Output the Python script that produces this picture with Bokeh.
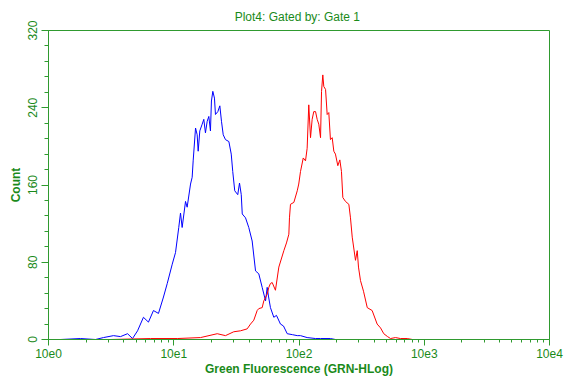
from bokeh.plotting import figure
from bokeh.models import FixedTicker, SingleIntervalTicker, Range1d
from bokeh.embed import file_html
from bokeh.resources import INLINE

# ---- data (log10 of green fluorescence, counts) ----
blue_log = [0.096, 0.255, 0.375, 0.439, 0.519, 0.575, 0.631, 0.671, 0.711, 0.758,
            0.798, 0.838, 0.878, 0.918, 0.948, 0.988, 1.014, 1.040, 1.054, 1.067,
            1.094, 1.107, 1.134, 1.147, 1.155, 1.174, 1.187, 1.195, 1.208, 1.227,
            1.240, 1.253, 1.267, 1.280, 1.293, 1.301, 1.312, 1.325, 1.333, 1.352,
            1.368, 1.381, 1.395, 1.413, 1.440, 1.459, 1.471, 1.487, 1.511, 1.525,
            1.539, 1.547, 1.573, 1.599, 1.626, 1.653, 1.679, 1.706, 1.733, 1.746,
            1.756, 1.772, 1.799, 1.820, 1.852, 1.876, 1.906, 1.948, 1.986, 2.012,
            2.065, 2.132, 2.172, 2.251, 2.291]
blue_count = [0, 1, 0, 2, 4, 3, 6, 1, 9, 23,
              18, 30, 27, 44, 58, 78, 90, 116, 131, 116,
              143, 137, 161, 168, 185, 219, 212, 195, 216, 223,
              228, 214, 226, 231, 216, 247, 257, 250, 233, 236,
              242, 226, 212, 207, 205, 192, 174, 154, 150, 162,
              150, 130, 126, 116, 102, 71, 68, 54, 40, 54,
              45, 33, 23, 25, 16, 14, 6, 5, 4, 4,
              2, 1, 1, 1, 0]

red_log = [0.232, 0.495, 0.814, 1.028, 1.214, 1.347, 1.413, 1.479, 1.533, 1.586,
           1.613, 1.639, 1.666, 1.679, 1.706, 1.719, 1.746, 1.759, 1.772, 1.786,
           1.812, 1.839, 1.879, 1.900, 1.919, 1.924, 1.932, 1.959, 1.986, 1.998,
           2.012, 2.034, 2.052, 2.065, 2.078, 2.092, 2.105, 2.118, 2.132, 2.145,
           2.158, 2.172, 2.180, 2.190, 2.198, 2.212, 2.225, 2.238, 2.251, 2.265,
           2.278, 2.291, 2.310, 2.326, 2.339, 2.350, 2.371, 2.398, 2.411, 2.425,
           2.451, 2.465, 2.475, 2.491, 2.515, 2.545, 2.584, 2.624, 2.651, 2.677,
           2.707, 2.731, 2.770, 2.810, 2.864, 2.906]
red_count = [0, 0, 1, 1, 2, 6, 4, 8, 9, 11,
             16, 20, 30, 32, 33, 40, 47, 54, 58, 59,
             51, 75, 92, 100, 109, 126, 140, 142, 154, 161,
             174, 188, 185, 198, 243, 209, 228, 236, 236, 228,
             223, 209, 257, 274, 262, 259, 233, 235, 207, 209,
             195, 192, 180, 186, 174, 147, 143, 140, 126, 106,
             82, 92, 75, 61, 50, 33, 30, 16, 12, 6,
             3, 1, 2, 1, 1, 0]

x_decades = [1, 10, 100, 1000, 10000]
x_tick_labels = ["10e0", "10e1", "10e2", "10e3", "10e4"]
y_ticks = [0, 80, 160, 240, 320]

TXT = "#1a8a1a"
LINE = "#2f9a2f"

p = figure(width=566, height=384, output_backend="svg", toolbar_location=None,
           x_axis_type="log", x_range=Range1d(1, 10000), y_range=Range1d(0, 320),
           title="Plot4:  Gated by: Gate 1",
           min_border_left=48, min_border_right=17, min_border_top=29, min_border_bottom=45)

p.line([10 ** v for v in blue_log], blue_count, line_color="#0000ff", line_width=1)
p.line([10 ** v for v in red_log], red_count, line_color="#ff0000", line_width=1)

p.title.align = "center"
p.title.vertical_align = "bottom"
p.title.text_color = TXT
p.title.text_font = "Liberation Sans"
p.title.text_font_size = "12px"
p.title.text_font_style = "normal"
p.title.standoff = 14

p.grid.visible = False
p.outline_line_color = LINE
p.outline_line_alpha = 1
p.outline_line_width = 1
p.background_fill_color = "white"
p.border_fill_color = "white"

minor = [d * k for d in x_decades[:-1] for k in range(2, 10)]
p.xaxis.ticker = FixedTicker(ticks=x_decades, minor_ticks=minor)
p.xaxis.major_label_overrides = {d: lab for d, lab in zip(x_decades, x_tick_labels)}
p.yaxis.ticker = SingleIntervalTicker(interval=80, num_minor_ticks=5)
p.yaxis.major_label_overrides = {v: str(v) for v in y_ticks}
p.yaxis.major_label_orientation = "vertical"

for ax in (p.xaxis[0], p.yaxis[0]):
    ax.axis_line_color = LINE
    ax.major_tick_line_color = LINE
    ax.minor_tick_line_color = LINE
    ax.major_tick_in = 0
    ax.minor_tick_in = 0
    ax.major_label_text_color = TXT
    ax.major_label_text_font = "Liberation Sans"
    ax.major_label_text_font_size = "12px"
    ax.axis_label_text_color = TXT
    ax.axis_label_text_font = "Liberation Sans"
    ax.axis_label_text_font_size = "12px"
    ax.axis_label_text_font_style = "bold"

p.xaxis.major_tick_out = 6
p.xaxis.minor_tick_out = 3
p.yaxis.major_tick_out = 7
p.yaxis.minor_tick_out = 4
p.xaxis.axis_label = "Green Fluorescence (GRN-HLog)"
p.yaxis.axis_label = "Count"
p.xaxis.major_label_standoff = 3
p.xaxis.axis_label_standoff = 1
p.yaxis.major_label_standoff = 5
p.yaxis.axis_label_standoff = 2

open("out.html", "w").write(file_html(p, INLINE))
